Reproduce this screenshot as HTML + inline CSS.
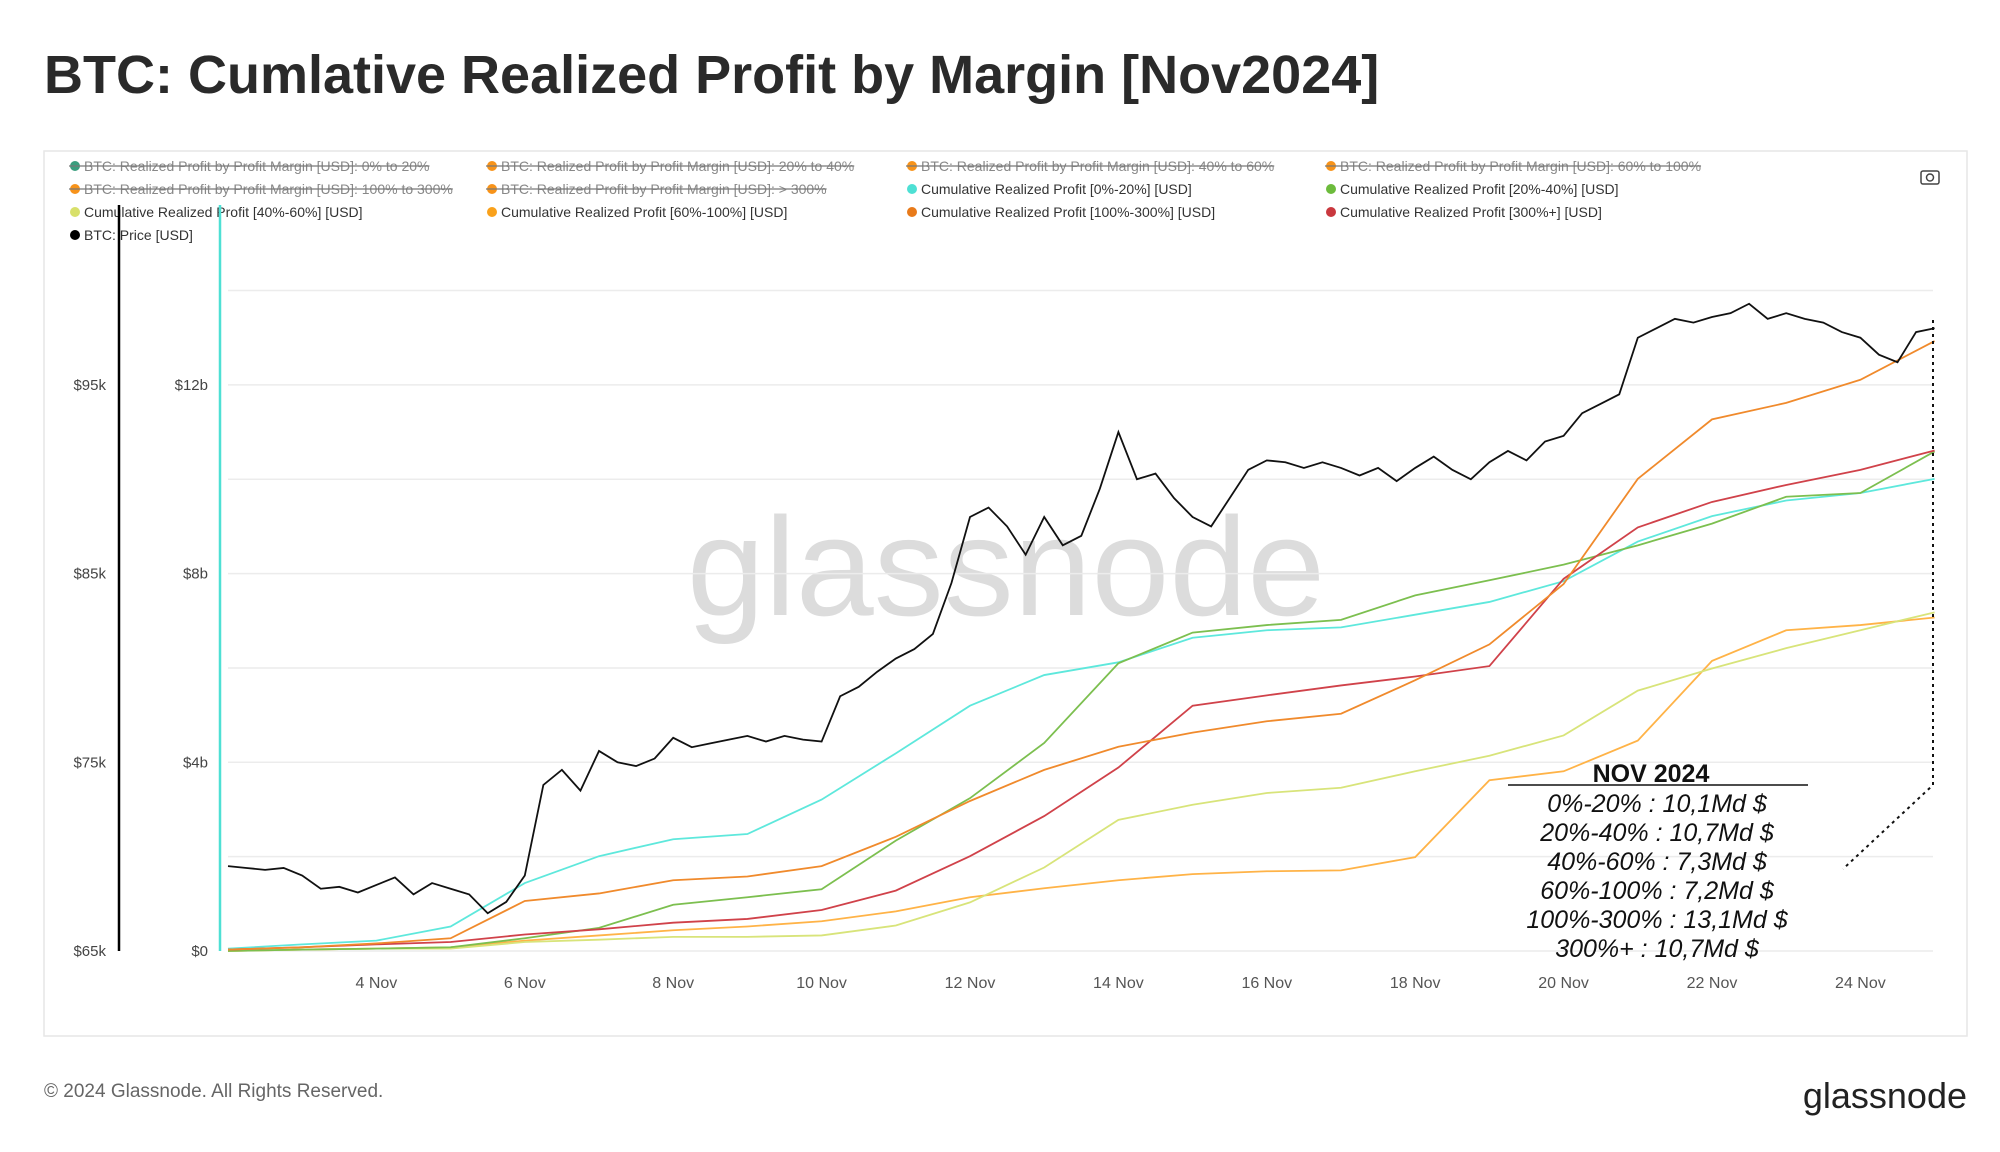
<!DOCTYPE html>
<html><head><meta charset="utf-8"><style>
html,body{margin:0;padding:0;background:#fff;}
svg{display:block;font-family:"Liberation Sans",sans-serif;}
</style></head><body>
<svg id="chart" width="2000" height="1152" viewBox="0 0 2000 1152" xmlns="http://www.w3.org/2000/svg">
<text x="44" y="93" font-size="54" font-weight="bold" fill="#2a2a2a">BTC: Cumlative Realized Profit by Margin [Nov2024]</text>
<rect x="44" y="151" width="1923" height="885" fill="#fff" stroke="#e6e6e6" stroke-width="1.5"/>
<g id="legend"></g>
<g><rect x="1921" y="171" width="18" height="13" rx="2" fill="none" stroke="#444" stroke-width="1.5"/><circle cx="1930" cy="177.5" r="3.5" fill="none" stroke="#444" stroke-width="1.5"/></g>
<text x="1006" y="615" text-anchor="middle" font-size="140" fill="#dcdcdc">glassnode</text>
<g id="grid"></g>
<g id="axes"></g>
<g id="series"></g>
<g><polyline points="1933,320 1933,785 1843,869" fill="none" stroke="#111" stroke-width="2" stroke-dasharray="3,4"/></g>
<g font-family="'Liberation Sans',sans-serif" text-anchor="middle" fill="#111">
<text x="1651" y="782" font-size="25" font-weight="bold">NOV 2024</text>
<line x1="1508" y1="785" x2="1808" y2="785" stroke="#111" stroke-width="1.5"/>
<text x="1657" y="812" font-size="25" font-style="italic">0%-20% : 10,1Md $</text>
<text x="1657" y="841" font-size="25" font-style="italic">20%-40% : 10,7Md $</text>
<text x="1657" y="870" font-size="25" font-style="italic">40%-60% : 7,3Md $</text>
<text x="1657" y="899" font-size="25" font-style="italic">60%-100% : 7,2Md $</text>
<text x="1657" y="928" font-size="25" font-style="italic">100%-300% : 13,1Md $</text>
<text x="1657" y="957" font-size="25" font-style="italic">300%+ : 10,7Md $</text>
</g>
<text x="44" y="1097" font-size="19" fill="#666">© 2024 Glassnode. All Rights Reserved.</text>
<text x="1967" y="1108" text-anchor="end" font-size="36" fill="#222">glassnode</text>
</svg>
<script>
const dayLabels = ["4 Nov","6 Nov","8 Nov","10 Nov","12 Nov","14 Nov","16 Nov","18 Nov","20 Nov","22 Nov","24 Nov"];
const dayTickOffsets = [2,4,6,8,10,12,14,16,18,20,22];
const priceTicks = [65,75,85,95];
const priceTickLabels = ["$65k","$75k","$85k","$95k"];
const gridPrices = [65,70,75,80,85,90,95,100];
const profitTicks = [0,4,8,12];
const profitTickLabels = ["$0","$4b","$8b","$12b"];
const cum0_20 = [0.05,0.14,0.22,0.52,1.44,2.01,2.37,2.48,3.21,4.19,5.2,5.85,6.12,6.64,6.8,6.86,7.13,7.4,7.84,8.68,9.22,9.55,9.71,10.01];
const cum20_40 = [0,0.03,0.05,0.08,0.27,0.49,0.98,1.14,1.31,2.34,3.24,4.41,6.1,6.75,6.91,7.02,7.54,7.86,8.19,8.6,9.06,9.63,9.71,10.59];
const cum40_60 = [0,0.03,0.05,0.05,0.19,0.24,0.3,0.3,0.33,0.54,1.03,1.77,2.78,3.1,3.35,3.46,3.81,4.14,4.57,5.52,5.99,6.42,6.8,7.18];
const cum60_100 = [0,0.03,0.05,0.08,0.22,0.33,0.44,0.52,0.63,0.84,1.14,1.33,1.5,1.63,1.69,1.71,1.99,3.62,3.81,4.46,6.15,6.8,6.91,7.07];
const cum100_300 = [0.03,0.08,0.16,0.27,1.06,1.22,1.5,1.58,1.8,2.42,3.18,3.84,4.33,4.63,4.87,5.03,5.74,6.5,7.78,10.01,11.27,11.62,12.11,12.93];
const cum300p = [0.03,0.08,0.14,0.19,0.35,0.46,0.6,0.68,0.87,1.28,2.01,2.86,3.89,5.2,5.42,5.63,5.82,6.04,7.89,8.98,9.52,9.88,10.2,10.61];
const price = [69.5,69.4,69.3,69.4, 69.0,68.3,68.4,68.1, 68.5,68.9,68.0,68.6, 68.3,68.0,67.0,67.6, 69.0,73.8,74.6,73.5, 75.6,75.0,74.8,75.2, 76.3,75.8,76.0,76.2, 76.4,76.1,76.4,76.2, 76.1,78.5,79.0,79.8, 80.5,81.0,81.8,84.5, 88.0,88.5,87.5,86.0, 88.0,86.5,87.0,89.5, 92.5,90.0,90.3,89.0, 88.0,87.5,89.0,90.5, 91.0,90.9,90.6,90.9, 90.6,90.2,90.6,89.9, 90.6,91.2,90.5,90.0, 90.9,91.5,91.0,92.0, 92.3,93.5,94.0,94.5, 97.5,98.0,98.5,98.3, 98.6,98.8,99.3,98.5, 98.8,98.5,98.3,97.8, 97.5,96.6,96.2,97.8, 98.0];

const NS="http://www.w3.org/2000/svg";
const X0=228, DAY=74.2;
const xDay=d=>X0+d*DAY;
const yPrice=p=>951-(p-65)*18.87;
const yProfit=b=>951-b*47.17;
function mk(tag,attrs,parent){const e=document.createElementNS(NS,tag);for(const k in attrs)e.setAttribute(k,attrs[k]);parent.appendChild(e);return e;}
const grid=document.getElementById('grid'),axes=document.getElementById('axes'),series=document.getElementById('series'),legend=document.getElementById('legend');

gridPrices.forEach(p=>{const l=mk('line',{x1:228,x2:1933,y1:yPrice(p),y2:yPrice(p),stroke:'#ececec','stroke-width':1.5},grid);

});
dayTickOffsets.forEach((d,i)=>{const t=mk('text',{x:xDay(d),y:988,'text-anchor':'middle','font-size':16,fill:'#555'},axes);t.textContent=dayLabels[i];

});
priceTicks.forEach((p,i)=>{const t=mk('text',{x:106,y:yPrice(p)+5,'text-anchor':'end','font-size':15,fill:'#444'},axes);t.textContent=priceTickLabels[i];

});
profitTicks.forEach((b,i)=>{const t=mk('text',{x:208,y:yProfit(b)+5,'text-anchor':'end','font-size':15,fill:'#444'},axes);t.textContent=profitTickLabels[i];

});
const pa=mk('line',{x1:119,x2:119,y1:205,y2:951,stroke:'#000','stroke-width':2.5},axes);


const ca=mk('line',{x1:220,x2:220,y1:205,y2:951,stroke:'#4ee0d4','stroke-width':2.5},axes);



const defs=[[cum60_100,'#ffb347','cum-60-100-line'],[cum40_60,'#d8e47a','cum-40-60-line'],[cum0_20,'#5ee8dc','cum-0-20-line'],[cum20_40,'#7cbf4f','cum-20-40-line'],[cum300p,'#d0424a','cum-300plus-line'],[cum100_300,'#f08a2c','cum-100-300-line']];
defs.forEach(([arr,col,name])=>{const pts=arr.map((v,i)=>xDay(i*23/(arr.length-1))+','+yProfit(v)).join(' ');
const pl=mk('polyline',{points:pts,fill:'none',stroke:col,'stroke-width':1.8},series);

});
const pp=mk('polyline',{points:price.map((v,i)=>xDay(i*23/(price.length-1))+','+yPrice(v)).join(' '),fill:'none',stroke:'#111','stroke-width':1.8},series);



const legendItems=[
["BTC: Realized Profit by Profit Margin [USD]: 0% to 20%","#3a9e7e",true],
["BTC: Realized Profit by Profit Margin [USD]: 20% to 40%","#f7931a",true],
["BTC: Realized Profit by Profit Margin [USD]: 40% to 60%","#f7931a",true],
["BTC: Realized Profit by Profit Margin [USD]: 60% to 100%","#f7931a",true],
["BTC: Realized Profit by Profit Margin [USD]: 100% to 300%","#f7931a",true],
["BTC: Realized Profit by Profit Margin [USD]: > 300%","#f7931a",true],
["Cumulative Realized Profit [0%-20%] [USD]","#4ee0d4",false],
["Cumulative Realized Profit [20%-40%] [USD]","#6cbb3c",false],
["Cumulative Realized Profit [40%-60%] [USD]","#d8e06a",false],
["Cumulative Realized Profit [60%-100%] [USD]","#f9a11b",false],
["Cumulative Realized Profit [100%-300%] [USD]","#e87a1a",false],
["Cumulative Realized Profit [300%+] [USD]","#c9383e",false],
["BTC: Price [USD]","#000",false]];
const colX=[71,488,908,1327];
legendItems.forEach((it,i)=>{const x=colX[i%4],y=171+Math.floor(i/4)*23;
const g=mk('g',{},legend);


mk('circle',{cx:x+4,cy:y-5,r:5,fill:it[1]},g);
const t=mk('text',{x:x+13,y:y,'font-size':14,fill:it[2]?'#888':'#333'},g);t.textContent=it[0];
if(it[2]){mk('line',{x1:x-2,x2:x+13+t.getComputedTextLength(),y1:y-5,y2:y-5,stroke:'#777','stroke-width':1.2},g);}
});
</script>
</body></html>
